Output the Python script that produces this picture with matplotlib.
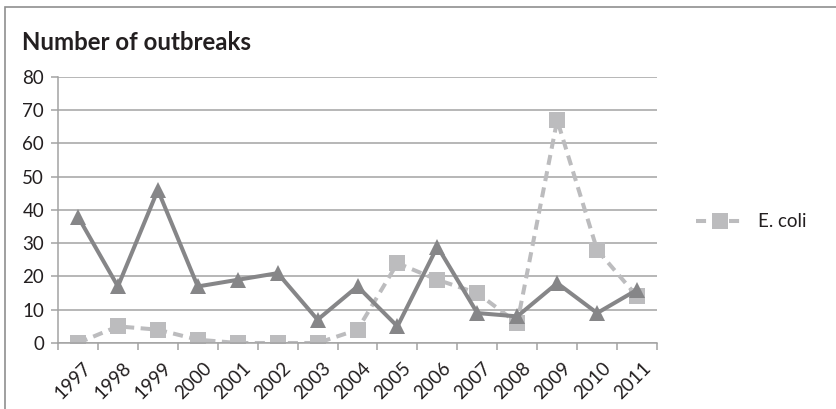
import matplotlib as mpl
mpl.use('Agg')
from matplotlib import pyplot as plt
from matplotlib.patches import Rectangle

plt.rcParams['font.family'] = ['Lato', 'DejaVu Sans']

# outbreak counts per year
years = ['1997', '1998', '1999', '2000', '2001', '2002', '2003', '2004',
         '2005', '2006', '2007', '2008', '2009', '2010', '2011']
other_outbreaks = [38, 17, 46, 17, 19, 21, 7, 17, 5, 29, 9, 8, 18, 9, 16]
ecoli_outbreaks = [0, 5, 4, 1, 0, 0, 0, 4, 24, 19, 15, 6, 67, 28, 14]
y_ticks = [0, 10, 20, 30, 40, 50, 60, 70, 80]

text_color = '#231f20'
grid_color = '#a3a3a3'
dark_grey = '#868688'
light_grey = '#bcbcbe'

fig = plt.figure(figsize=(8.37, 4.09), dpi=100)
ax = fig.add_axes([0.0693, 0.1614, 0.7157, 0.6504])

x = list(range(len(years)))
ax.plot(x, other_outbreaks, color=dark_grey, lw=2.9, marker='^',
        markersize=12, markeredgewidth=0, zorder=3)
ax.plot(x, ecoli_outbreaks, color=light_grey, lw=2.9, ls=(0, (2.5, 1.6)),
        marker='s', markersize=11, markeredgewidth=0, zorder=2,
        label='E. coli')

ax.set_xlim(-0.5, len(years) - 0.5)
ax.set_ylim(0, 80)
ax.set_yticks(y_ticks)
ax.set_yticklabels([str(v) for v in y_ticks], fontsize=13.5, color=text_color)
ax.yaxis.grid(True, color=grid_color, lw=1.1)
ax.set_axisbelow(True)

# category boundaries get the tick marks, labels sit at the centres
ax.set_xticks([i - 0.5 for i in range(len(years) + 1)])
ax.set_xticklabels([])
ax.tick_params(axis='x', direction='out', length=5, color=grid_color, width=1.1)
ax.tick_params(axis='y', direction='out', length=5, color=grid_color, width=1.1, pad=5)
for i, yr in enumerate(years):
    ax.text(i + 0.12, -5.0, yr, rotation=45, ha='right', va='top',
            rotation_mode='anchor', fontsize=13.5, color=text_color)

for side in ['top', 'right']:
    ax.spines[side].set_visible(False)
ax.spines['left'].set_color(grid_color)
ax.spines['left'].set_linewidth(1.1)
ax.spines['bottom'].set_color(grid_color)
ax.spines['bottom'].set_linewidth(1.1)

leg = ax.legend(loc='center left', bbox_to_anchor=(1.065, 0.455), frameon=False,
                fontsize=13.5, handlelength=2.6, handletextpad=0.7,
                borderaxespad=0, borderpad=0)
for t in leg.get_texts():
    t.set_color(text_color)

fig.text(22 / 837, 1 - 43 / 409, 'Number of outbreaks', fontsize=17.3,
         fontweight='bold', color=text_color, va='center', ha='left')

# chart frame, running off the right and bottom edges
fig.patches.append(Rectangle((5 / 837, -0.1), 1.2, 1 - 7 / 409 + 0.1,
                             transform=fig.transFigure, fill=False,
                             edgecolor='#8f8f8f', lw=1.2))

fig.savefig('out.png', dpi=100)
